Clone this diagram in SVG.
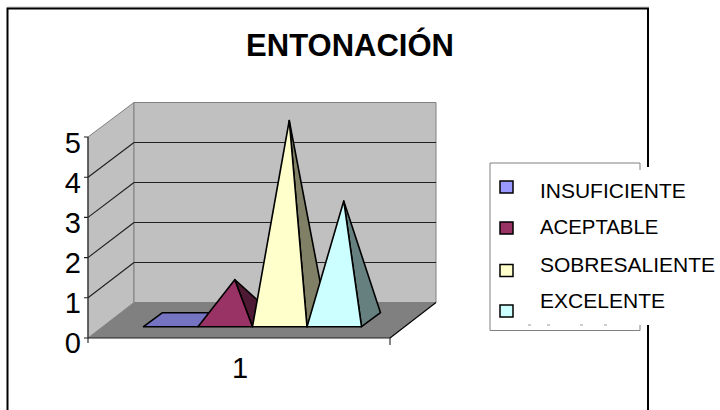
<svg xmlns="http://www.w3.org/2000/svg" width="720" height="410" viewBox="0 0 720 410">
<style>
text{font-family:"Liberation Sans",Arial,sans-serif;fill:#000}
.ax{font-size:29px;text-anchor:end}
.lg{font-size:21px}
.pf{stroke:#000;stroke-width:1.6;stroke-linejoin:round}
.gl{stroke:#202020;stroke-width:1.1;fill:none}
.wall{fill:#c0c0c0;stroke:#808080;stroke-width:1}
.sw{stroke:#000;stroke-width:1.5}
</style>
<rect width="720" height="410" fill="#fff"/>
<g id="frame">
<line x1="7" y1="7" x2="649" y2="7" stroke="#c8c8c8" stroke-width="1"/>
<path d="M7.5 410 V8.5 H648 V167 M648 325 V410" stroke="#000" stroke-width="2" fill="none"/>
</g>
<g id="title"><text x="350" y="56" font-size="31" font-weight="bold" text-anchor="middle">ENTONACIÓN</text></g>
<g id="chart">
<polygon class="wall" points="88,338 88,137 134,102.5 134,302.5"/>
<polygon class="wall" points="134,102.5 436,102.5 436,302.5 134,302.5"/>
<polygon points="88,338 134,302.5 436,302.5 390,338" fill="#808080"/>
<g class="gl">
<path d="M134 262.5H436M134 222.5H436M134 182.5H436M134 142.5H436"/>
<path d="M88 297.8L134 262.5M88 257.6L134 222.5M88 217.4L134 182.5M88 177.2L134 142.5"/>
<path d="M88 137V338H390M84 338H88M84 297.8H88M84 257.6H88M84 217.4H88M84 177.2H88M84 137H88M88 338V343M390 338V345"/>
<path d="M390 338L436 302.5" stroke="#000"/>
</g>
<text class="ax" x="81" y="353">0</text>
<text class="ax" x="81" y="313">1</text>
<text class="ax" x="81" y="273">2</text>
<text class="ax" x="81" y="233">3</text>
<text class="ax" x="81" y="193">4</text>
<text class="ax" x="81" y="153">5</text>
<text x="240" y="378" font-size="29" text-anchor="middle">1</text>
</g>
<g id="series">
<polygon class="pf" points="143.5,326.7 198,326.7 217,312.7 162.5,312.7" fill="#7474c2"/>
<polygon class="pf" points="234.75,279.7 252.5,326.7 271.5,312.7" fill="#4d1933"/>
<polygon class="pf" points="198,326.7 252.5,326.7 234.75,279.7" fill="#993366"/>
<polygon class="pf" points="289.25,120.5 307,326.7 326,312.7" fill="#808066"/>
<polygon class="pf" points="252.5,326.7 307,326.7 289.25,120.5" fill="#ffffcc"/>
<polygon class="pf" points="343.75,201 361.5,326.7 380.5,312.7" fill="#668080"/>
<polygon class="pf" points="307,326.7 361.5,326.7 343.75,201" fill="#ccffff"/>
</g>
<g id="legend">
<path d="M640 170V163H490V330.5H640V325" fill="none" stroke="#808080" stroke-width="1"/>
<path d="M528 325h3M547 325h3M580 325h3M604 325h3" stroke="#999" stroke-width="1"/>
<rect class="sw" x="500" y="181" width="13" height="12" fill="#9999ff"/>
<rect class="sw" x="500" y="222" width="13" height="12" fill="#993366"/>
<rect class="sw" x="500" y="264.5" width="13" height="12" fill="#ffffcc"/>
<rect class="sw" x="500" y="305" width="13" height="12" fill="#ccffff"/>
<text class="lg" x="540" y="197.7" textLength="145.7" lengthAdjust="spacingAndGlyphs">INSUFICIENTE</text>
<text class="lg" x="540" y="233.7" textLength="118.3" lengthAdjust="spacingAndGlyphs">ACEPTABLE</text>
<text class="lg" x="540" y="271.7" textLength="175" lengthAdjust="spacingAndGlyphs">SOBRESALIENTE</text>
<text class="lg" x="540" y="308.3" textLength="125" lengthAdjust="spacingAndGlyphs">EXCELENTE</text>
</g>
</svg>
